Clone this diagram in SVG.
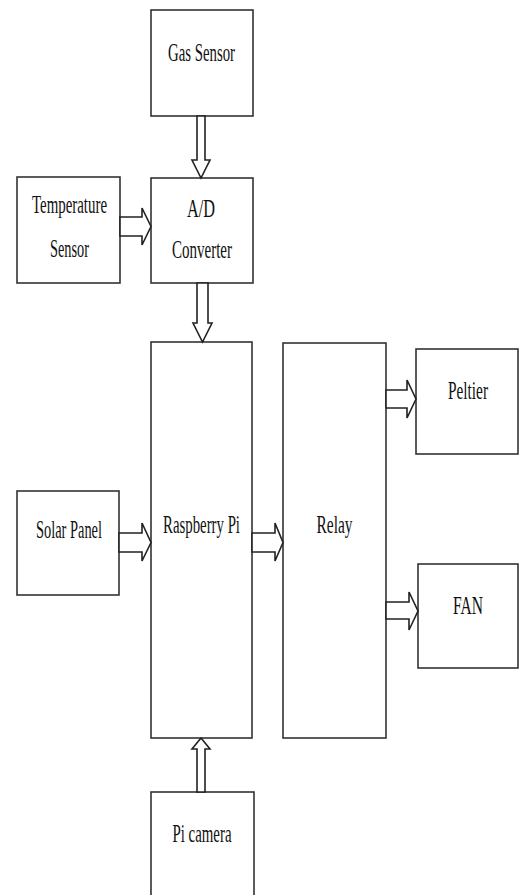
<svg xmlns="http://www.w3.org/2000/svg" width="520" height="895" viewBox="0 0 520 895">
<style>
.box{fill:#fff;stroke:#333;stroke-width:1.6}
.arr{fill:#fff;stroke:#222;stroke-width:1.6;stroke-linejoin:miter}
.lbl{font-family:"Liberation Serif","Times New Roman",serif;font-size:25px;fill:#111;text-anchor:middle}
</style>
<rect width="520" height="895" fill="#fff"/>
<g id="gas-sensor"><rect class="box" x="151" y="10" width="102" height="106"/><text class="lbl" x="201.5" y="61" textLength="67" lengthAdjust="spacingAndGlyphs">Gas Sensor</text></g>
<g id="temperature-sensor"><rect class="box" x="17" y="177" width="103" height="106"/><text class="lbl" x="69.5" y="213" textLength="75" lengthAdjust="spacingAndGlyphs">Temperature</text><text class="lbl" x="69.5" y="257" textLength="39" lengthAdjust="spacingAndGlyphs">Sensor</text></g>
<g id="ad-converter"><rect class="box" x="151" y="178" width="102" height="105"/><text class="lbl" x="201" y="217" textLength="28" lengthAdjust="spacingAndGlyphs">A/D</text><text class="lbl" x="202" y="258" textLength="60" lengthAdjust="spacingAndGlyphs">Converter</text></g>
<g id="raspberry-pi"><rect class="box" x="151" y="342" width="101" height="396"/><text class="lbl" x="201.5" y="533" textLength="77" lengthAdjust="spacingAndGlyphs">Raspberry Pi</text></g>
<g id="relay"><rect class="box" x="283" y="343" width="103" height="395"/><text class="lbl" x="334.5" y="533" textLength="36" lengthAdjust="spacingAndGlyphs">Relay</text></g>
<g id="solar-panel"><rect class="box" x="17" y="491" width="102" height="104"/><text class="lbl" x="69" y="538" textLength="66" lengthAdjust="spacingAndGlyphs">Solar Panel</text></g>
<g id="peltier"><rect class="box" x="416" y="349" width="102" height="105"/><text class="lbl" x="468" y="399" textLength="40" lengthAdjust="spacingAndGlyphs">Peltier</text></g>
<g id="fan"><rect class="box" x="418" y="564" width="100" height="104"/><text class="lbl" x="468" y="614" textLength="30" lengthAdjust="spacingAndGlyphs">FAN</text></g>
<g id="pi-camera"><rect class="box" x="151" y="792" width="103" height="110"/><text class="lbl" x="202" y="842" textLength="59" lengthAdjust="spacingAndGlyphs">Pi camera</text></g>
<g id="connectors">
<polygon class="arr" points="197,116 205,116 205,160 210,160 201,178 192,160 197,160"/>
<polygon class="arr" points="197,283 208,283 208,323 212,323 202.5,342 193,323 197,323"/>
<polygon class="arr" points="120,217 142,217 142,208 151,226.5 142,245 142,236 120,236"/>
<polygon class="arr" points="119,533 142,533 142,523 151,542.5 142,561 142,552 119,552"/>
<polygon class="arr" points="252,533 275,533 275,523 283,542.5 275,561 275,552 252,552"/>
<polygon class="arr" points="386,390 407,390 407,380 416,399 407,418 407,408 386,408"/>
<polygon class="arr" points="386,602 409,602 409,592 418,611 409,630 409,619 386,619"/>
<polygon class="arr" points="197,792 205,792 205,749 210,749 201,738 192,749 197,749"/>
</g>
</svg>
